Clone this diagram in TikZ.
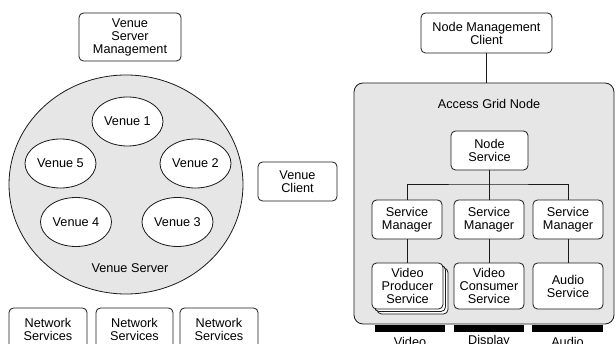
\documentclass[tikz,border=0pt]{standalone}
\usepackage{fontspec}
\setmainfont{Liberation Sans}
\usetikzlibrary{shadows,shapes.geometric}
\definecolor{panel}{HTML}{E6E6E6}
\definecolor{ink}{HTML}{1A1A1A}
\begin{document}
\begin{tikzpicture}[x=1pt,y=-1pt,
  every node/.style={font=\fontsize{12.7}{13}\selectfont, inner sep=0pt, align=center},
  line/.style={draw=ink, line width=0.8pt},
  box/.style={line, fill=white, rounded corners=4.5pt, rectangle},
  venue/.style={line, fill=white, ellipse, minimum width=71pt, minimum height=49pt},
  bar/.style={fill=black, rectangle, minimum height=7pt}]
\clip (0,0) rectangle (616,344);
\useasboundingbox (0,0) rectangle (616,344);

% Venue server side
\node[box, minimum width=102pt, minimum height=48pt] (vsm) at (130,37) {Venue\\Server\\Management};
\node[line, fill=panel, ellipse, minimum width=234pt, minimum height=219pt] (vs) at (126,184.5) {};
\node[venue] (v1) at (127.5,121.5) {Venue 1};
\node[venue] (v2) at (195.5,163.5) {Venue 2};
\node[venue] (v3) at (177.5,222) {Venue 3};
\node[venue] (v4) at (76,222) {Venue 4};
\node[venue] (v5) at (60.5,163.5) {Venue 5};
\node (vslabel) at (130,268.5) {Venue Server};
\node[box, minimum width=79pt, minimum height=39pt] (vc) at (297.5,181.5) {Venue\\Client};

\node[box, minimum width=78pt, minimum height=42pt] (ns1) at (48,329) {Network\\Services};
\node[box, minimum width=77pt, minimum height=42pt] (ns2) at (134.5,329) {Network\\Services};
\node[box, minimum width=78pt, minimum height=42pt] (ns3) at (219,329) {Network\\Services};

% Node side
\node[box, minimum width=131pt, minimum height=40pt] (nmc) at (486.5,33) {Node Management\\Client};
\node[line, fill=panel, rounded corners=9pt, rectangle, minimum width=260pt, minimum height=241pt] (agn) at (484,203.5) {};
\node (agnlabel) at (489,103.5) {Access Grid Node};
\draw[line] (nmc.south) -- (nmc.south |- agn.north);

\node[box, minimum width=77pt, minimum height=39pt] (nsv) at (489.5,150.5) {Node\\Service};
\node[box, minimum width=70pt, minimum height=39pt] (sm1) at (407,219.5) {Service\\Manager};
\node[box, minimum width=70pt, minimum height=39pt] (sm2) at (489,219.5) {Service\\Manager};
\node[box, minimum width=70pt, minimum height=39pt] (sm3) at (568,219.5) {Service\\Manager};
\coordinate (bus) at (489,184);
\draw[line] (nsv.south) -- (nsv.south |- bus);
\draw[line] (sm1.north) |- (bus) -| (sm3.north);
\draw[line] (sm2.north) -- (sm2.north |- bus);

% stacked producer services
\node[box, minimum width=71pt, minimum height=46pt,
  double copy shadow={shadow xshift=2.5pt, shadow yshift=-2.5pt, draw=ink, fill=white}] (vps) at (407.5,286) {Video\\Producer\\Service};
\node[box, minimum width=70pt, minimum height=46pt] (vcs) at (489,286) {Video\\Consumer\\Service};
\node[box, minimum width=70pt, minimum height=46pt] (aus) at (568,286) {Audio\\Service};
\draw[line] (sm1.south) -- (sm1.south |- vps.north);
\draw[line] (sm2.south) -- (vcs.north);
\draw[line] (sm3.south) -- (aus.north);

% Device bars
\node[bar, minimum width=70pt] (b1) at (410,328.5) {};
\node[bar, minimum width=70pt] (b2) at (489,328.5) {};
\node[bar, minimum width=71pt] (b3) at (567.5,328.5) {};
\node (l1) at (410,341.5) {Video};
\node (l2) at (489,341.5) {Display};
\node (l3) at (567.5,341.5) {Audio};
\end{tikzpicture}
\end{document}
